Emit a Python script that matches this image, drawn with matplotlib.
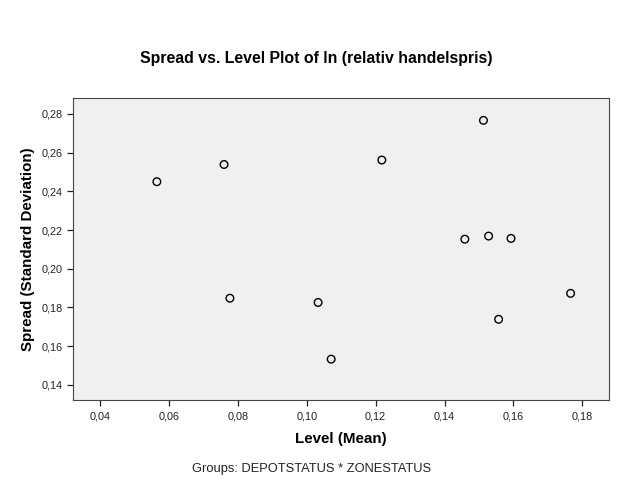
import matplotlib
matplotlib.use('Agg')
import matplotlib.pyplot as plt
from matplotlib.ticker import FuncFormatter, MultipleLocator

# level (mean) and spread (sd) per group
level = [0.0565, 0.0760, 0.0777, 0.1033, 0.1071, 0.1218,
         0.1513, 0.1459, 0.1528, 0.1593, 0.1557, 0.1766]
spread = [0.2450, 0.2539, 0.1848, 0.1826, 0.1533, 0.2562,
          0.2767, 0.2153, 0.2169, 0.2157, 0.1739, 0.1873]

title = 'Spread vs. Level Plot of ln (relativ handelspris)'
xlabel = 'Level (Mean)'
ylabel = 'Spread (Standard Deviation)'
footnote = 'Groups: DEPOTSTATUS * ZONESTATUS'

plt.rcParams['font.family'] = ['Liberation Sans', 'DejaVu Sans']

fig = plt.figure(figsize=(6.24, 4.99), dpi=100)
ax = fig.add_axes([0.1175, 0.1984, 0.858, 0.6046])
ax.set_facecolor('#f0f0f0')

ax.scatter(level, spread, s=30, facecolors='none', edgecolors='black',
           linewidths=1.0, zorder=3)

ax.set_xlim(0.03225, 0.18766)
ax.set_ylim(0.1322, 0.2881)
ax.xaxis.set_major_locator(MultipleLocator(0.02))
ax.yaxis.set_major_locator(MultipleLocator(0.02))
comma = FuncFormatter(lambda v, p: ('%.2f' % v).replace('.', ','))
ax.xaxis.set_major_formatter(comma)
ax.yaxis.set_major_formatter(comma)
ax.tick_params(axis='both', length=4.5, width=0.9, color='#222222',
               labelsize=7.8, pad=3, labelcolor='#222222')
ax.tick_params(axis='x', pad=4)

for s in ax.spines.values():
    s.set_color('#444444')
    s.set_linewidth(0.8)

fig.text(316 / 624, 1 - 58 / 499, title, ha='center', va='center',
         fontsize=11.4, fontweight='bold')
fig.text(341 / 624, 1 - 439 / 499, xlabel, ha='center', va='center',
         fontsize=10.9, fontweight='bold')
fig.text(28 / 624, 1 - 249 / 499, ylabel, ha='center', va='center',
         fontsize=10.9, fontweight='bold', rotation=90)
fig.text(311.7 / 624, 1 - 469 / 499, footnote, ha='center', va='center',
         fontsize=9.3, color='#222222')

fig.savefig('out.png', dpi=100)
